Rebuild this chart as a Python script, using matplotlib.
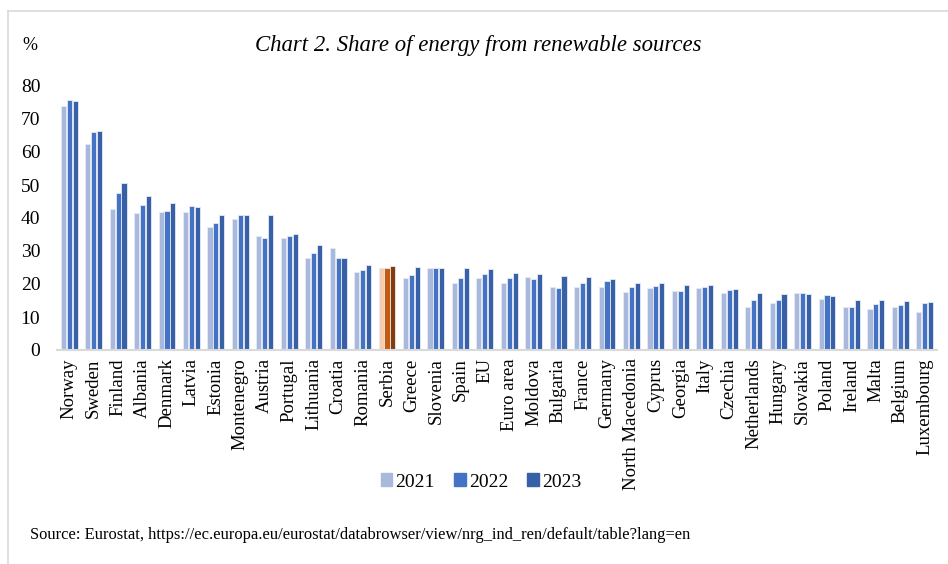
import matplotlib
matplotlib.use('Agg')

import matplotlib.pyplot as plt
from matplotlib.lines import Line2D
import numpy as np

countries = ['Norway', 'Sweden', 'Finland', 'Albania', 'Denmark', 'Latvia', 'Estonia',
             'Montenegro', 'Austria', 'Portugal', 'Lithuania', 'Croatia', 'Romania', 'Serbia',
             'Greece', 'Slovenia', 'Spain', 'EU', 'Euro area', 'Moldova', 'Bulgaria', 'France',
             'Germany', 'North Macedonia', 'Cyprus', 'Georgia', 'Italy', 'Czechia',
             'Netherlands', 'Hungary', 'Slovakia', 'Poland', 'Ireland', 'Malta', 'Belgium',
             'Luxembourg']

y2021 = [73.8, 62.4, 42.8, 41.4, 41.7, 41.9, 37.2, 39.8, 34.6, 33.9, 28.0, 31.0, 23.7, 25.0,
         21.9, 25.0, 20.4, 21.8, 20.4, 22.0, 19.2, 19.1, 19.2, 17.7, 18.9, 18.0, 18.7, 17.4,
         12.9, 14.1, 17.4, 15.6, 12.9, 12.5, 12.9, 11.6]
y2022 = [75.8, 66.2, 47.7, 44.0, 42.2, 43.5, 38.4, 41.0, 33.9, 34.6, 29.4, 27.9, 24.1, 24.7,
         22.7, 25.0, 21.8, 23.0, 21.7, 21.4, 18.9, 20.3, 20.8, 19.2, 19.3, 18.0, 19.0, 18.2,
         15.1, 15.2, 17.4, 16.8, 13.1, 13.8, 13.7, 14.3]
y2023 = [75.5, 66.3, 50.7, 46.6, 44.4, 43.2, 41.0, 40.8, 40.8, 35.1, 31.8, 27.9, 25.7, 25.4,
         25.3, 25.0, 24.8, 24.5, 23.3, 23.0, 22.4, 22.1, 21.5, 20.2, 20.2, 19.8, 19.6, 18.6,
         17.4, 17.1, 16.9, 16.5, 15.3, 15.1, 14.7, 14.4]
years = ['2021', '2022', '2023']

blues = ['#A9B8DD', '#4472C4', '#3760A6']
oranges = ['#F8CBAD', '#C55A11', '#843C0C']

serif = ['Liberation Serif', 'DejaVu Serif']
plt.rcParams['font.family'] = serif

fig = plt.figure(figsize=(9.48, 5.64), dpi=100)
ax = fig.add_axes([57 / 948, 1 - 350 / 564, (937 - 57) / 948, (350 - 86) / 564])

x = np.arange(len(countries))
w = 0.21
for i, vals in enumerate([y2021, y2022, y2023]):
    cols = [oranges[i] if c == 'Serbia' else blues[i] for c in countries]
    ax.bar(x + (i - 1) * (w + 0.03), vals, width=w, color=cols,
           edgecolor='#E6EAF4', linewidth=0.6)

ax.set_xlim(-0.5, len(countries) - 0.5)
ax.set_ylim(0, 80)
ax.set_yticks(range(0, 81, 10))
ax.tick_params(axis='y', length=0, labelsize=14, pad=12)
ax.set_xticks(x)
ax.set_xticklabels(countries, rotation=90, fontsize=13.5)
ax.tick_params(axis='x', length=0, pad=6)
for s in ['top', 'right', 'left']:
    ax.spines[s].set_visible(False)
ax.spines['bottom'].set_color('#D9D9D9')
ax.spines['bottom'].set_linewidth(1.5)

fig.text(478 / 948, 1 - 46 / 564, 'Chart 2. Share of energy from renewable sources',
         ha='center', va='center', fontsize=16.4, style='italic')
fig.text(22 / 948, 1 - 46 / 564, '%', ha='left', va='center', fontsize=13)

handles = [plt.Rectangle((0, 0), 1, 1, color=c) for c in blues]
fig.legend(handles, years, loc='center', bbox_to_anchor=(481 / 948, 1 - 482 / 564),
           ncol=3, frameon=False, fontsize=14, handlelength=0.6, handleheight=0.6,
           handletextpad=0.15, columnspacing=1.0)

fig.text(30 / 948, 1 - 535 / 564,
         'Source: Eurostat, https://ec.europa.eu/eurostat/databrowser/view/nrg_ind_ren/default/table?lang=en',
         ha='left', va='center', fontsize=11.9)

fig.add_artist(Line2D([8 / 948, 8 / 948], [0, 1 - 11 / 564], color='#D9D9D9', lw=1.2))
fig.add_artist(Line2D([8 / 948, 1], [1 - 11 / 564, 1 - 11 / 564], color='#D9D9D9', lw=1.2))

fig.savefig('out.png', dpi=100)
